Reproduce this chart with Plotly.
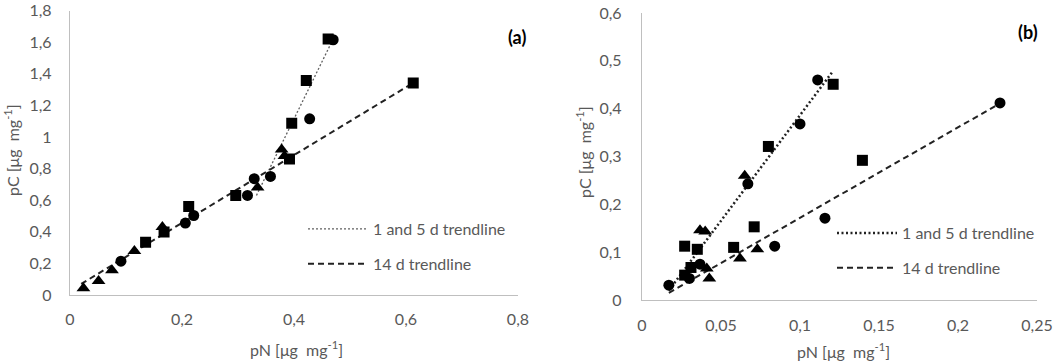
import plotly.graph_objects as go

# ---- panel (a) ----
a_sq_x = [0.135, 0.168, 0.212, 0.296, 0.392, 0.396, 0.422, 0.461, 0.613]
a_sq_y = [0.333, 0.398, 0.560, 0.630, 0.860, 1.086, 1.357, 1.620, 1.342]
a_ci_x = [0.091, 0.206, 0.221, 0.317, 0.329, 0.358, 0.428, 0.470]
a_ci_y = [0.214, 0.455, 0.503, 0.630, 0.736, 0.750, 1.115, 1.615]
a_tr_x = [0.024, 0.051, 0.075, 0.115, 0.165, 0.335, 0.378, 0.383]
a_tr_y = [0.042, 0.088, 0.157, 0.279, 0.430, 0.680, 0.920, 0.880]
a_dot_x = [0.333, 0.470]
a_dot_y = [0.630, 1.620]
a_dash_x = [0.020, 0.613]
a_dash_y = [0.070, 1.342]

# ---- panel (b) ----
b_sq_x = [0.027, 0.035, 0.027, 0.031, 0.058, 0.071, 0.080, 0.121, 0.1395]
b_sq_y = [0.1125, 0.106, 0.052, 0.068, 0.110, 0.153, 0.321, 0.451, 0.292]
b_ci_x = [0.017, 0.030, 0.0367, 0.067, 0.084, 0.100, 0.1112, 0.1158, 0.2266]
b_ci_y = [0.031, 0.045, 0.075, 0.243, 0.1125, 0.368, 0.460, 0.171, 0.412]
b_tr_x = [0.0367, 0.040, 0.041, 0.0426, 0.062, 0.065, 0.073]
b_tr_y = [0.146, 0.143, 0.066, 0.045, 0.087, 0.260, 0.106]
b_dot_x = [0.017, 0.121]
b_dot_y = [0.020, 0.479]
b_dash_x = [0.017, 0.226]
b_dash_y = [0.015, 0.410]

W, H = 1056, 363
GREY = "#595959"
FONT = "Lato"


def px(v, total):
    return v / total


fig = go.Figure()

# trendlines
fig.add_trace(go.Scatter(x=a_dot_x, y=a_dot_y, mode="lines", name="1 and 5 d trendline",
                         line=dict(color="#606060", width=1.3, dash="2px,2px"),
                         xaxis="x", yaxis="y", legend="legend", legendgroup="a1"))
fig.add_trace(go.Scatter(x=a_dash_x, y=a_dash_y, mode="lines", name="14 d trendline",
                         line=dict(color="#222222", width=2, dash="6px,4px"),
                         xaxis="x", yaxis="y", legend="legend", legendgroup="a2"))
fig.add_trace(go.Scatter(x=b_dot_x, y=b_dot_y, mode="lines", name="1 and 5 d trendline",
                         line=dict(color="#222222", width=2.5, dash="2px,2.5px"),
                         xaxis="x2", yaxis="y2", legend="legend2", legendgroup="b1"))
fig.add_trace(go.Scatter(x=b_dash_x, y=b_dash_y, mode="lines", name="14 d trendline",
                         line=dict(color="#222222", width=2, dash="6px,4px"),
                         xaxis="x2", yaxis="y2", legend="legend2", legendgroup="b2"))

# markers
for xs, ys, sym, sz, ax in [
    (a_sq_x, a_sq_y, "square", 11, ("x", "y")),
    (a_ci_x, a_ci_y, "circle", 11, ("x", "y")),
    (a_tr_x, a_tr_y, "triangle-up", 12, ("x", "y")),
    (b_sq_x, b_sq_y, "square", 11, ("x2", "y2")),
    (b_ci_x, b_ci_y, "circle", 11, ("x2", "y2")),
    (b_tr_x, b_tr_y, "triangle-up", 12, ("x2", "y2")),
]:
    fig.add_trace(go.Scatter(x=xs, y=ys, mode="markers", showlegend=False,
                             marker=dict(symbol=sym, size=sz, color="black"),
                             xaxis=ax[0], yaxis=ax[1]))

axis_common = dict(showgrid=False, zeroline=False, showline=True, linecolor="#BFBFBF",
                   linewidth=1.3, ticks="outside", tickcolor="rgba(0,0,0,0)",
                   automargin=False,
                   tickfont=dict(family=FONT, size=16, color=GREY))

title_txt_y = "pC [μg  mg<sup>-1</sup>]"
title_txt_x = "pN [μg  mg<sup>-1</sup>]"

leg_common = dict(xanchor="left", yanchor="top", bgcolor="rgba(0,0,0,0)",
                  font=dict(family=FONT, size=16, color=GREY),
                  itemwidth=60, tracegroupgap=11)


def note(text, x, y, **kw):
    return dict(text=text, x=px(x, W), y=1 - px(y, H), xref="paper", yref="paper",
                xanchor="center", yanchor="middle", showarrow=False, **kw)


fig.update_layout(
    width=W, height=H,
    margin=dict(l=0, r=0, t=0, b=0),
    paper_bgcolor="white", plot_bgcolor="white",
    separators=", ",
    font=dict(family=FONT, size=16, color=GREY),
    xaxis=dict(domain=[px(70, W), px(518, W)], range=[0, 0.8001], dtick=0.2,
               ticklen=10, anchor="y", **axis_common),
    yaxis=dict(domain=[1 - px(295, H), 1 - px(10.5, H)], range=[0, 1.8001], dtick=0.2,
               ticklen=14, anchor="x", **axis_common),
    xaxis2=dict(domain=[px(642, W), px(1037, W)], range=[0, 0.25001], dtick=0.05,
                ticklen=11, anchor="y2", **axis_common),
    yaxis2=dict(domain=[1 - px(300, H), 1 - px(13, H)], range=[0, 0.60001], dtick=0.1,
                ticklen=16, anchor="x2", **axis_common),
    legend=dict(x=px(303, W), y=1 - px(212, H), **leg_common),
    legend2=dict(x=px(832, W), y=1 - px(216, H), **leg_common),
    annotations=[
        note("<b>(a)</b>", 517, 37, font=dict(family=FONT, size=18, color="black")),
        note("<b>(b)</b>", 1028, 32, font=dict(family=FONT, size=18, color="black")),
        note(title_txt_y, 12, 150, textangle=-90),
        note(title_txt_y, 583, 152, textangle=-90),
        note(title_txt_x, 296, 348),
        note(title_txt_x, 843, 350),
    ],
)

fig.write_html("out.html", config={"displayModeBar": False},
               post_script="document.body.style.margin='0';")
